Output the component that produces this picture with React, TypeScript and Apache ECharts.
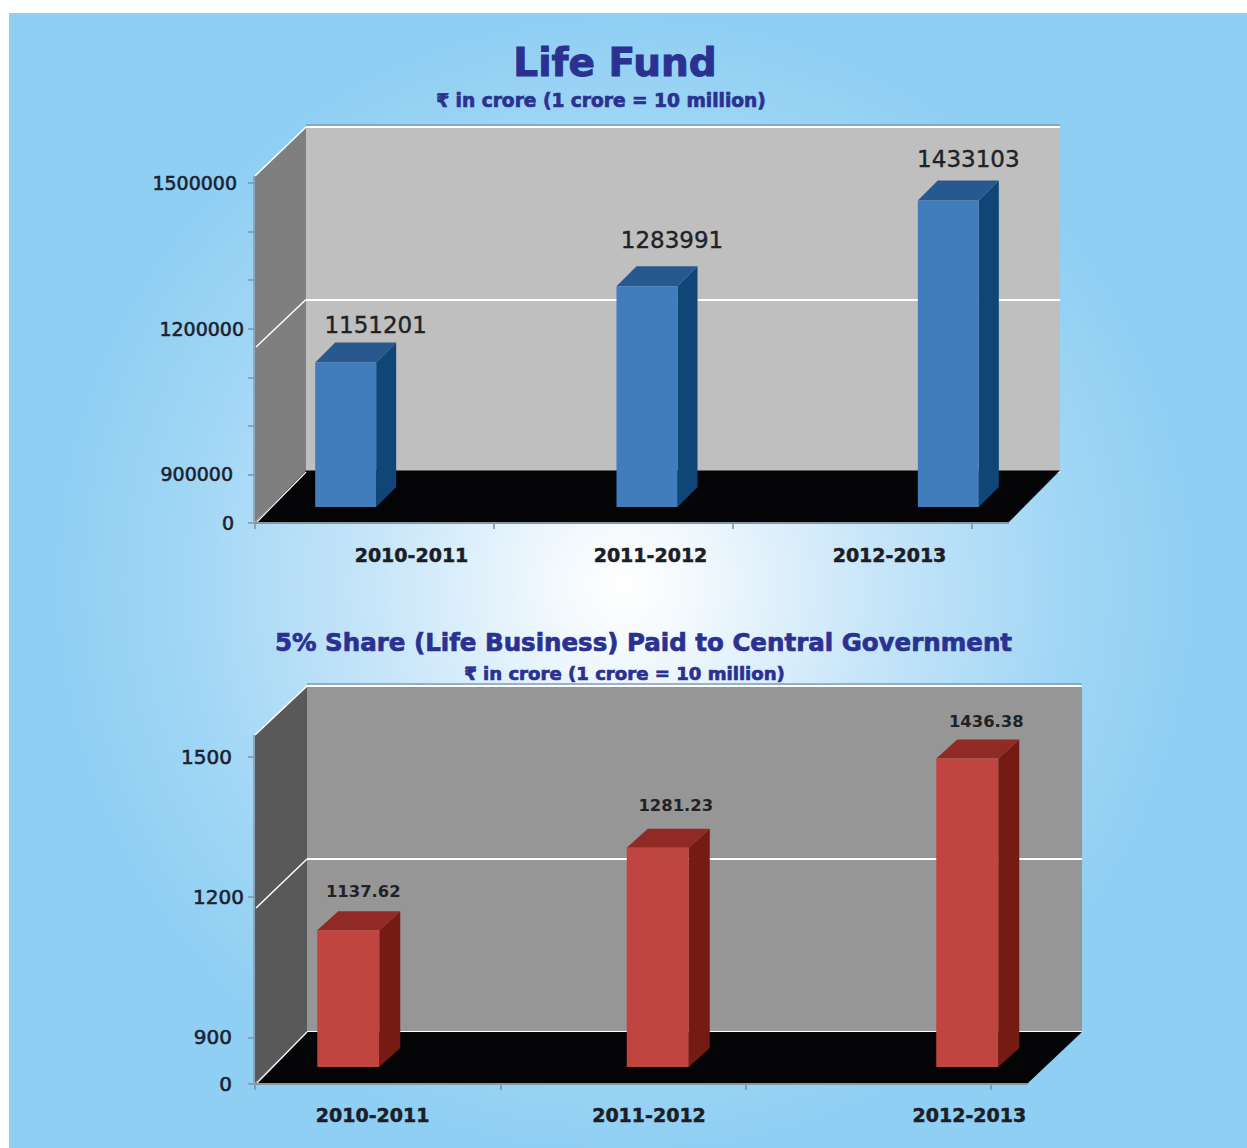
import React, { useEffect, useRef } from "react";
import * as echarts from "echarts";

const years = ["2010-2011", "2011-2012", "2012-2013"];
const lifeFund = [1151201, 1283991, 1433103];
const sharePaid = [1137.62, 1281.23, 1436.38];
const lifeFundTicks = [800000, 900000, 1200000, 1500000];
const shareTicks = [800, 900, 1200, 1500];

const FONT = "'DejaVu Sans', sans-serif";
const TITLE_BLUE = "#2b3191";
const INK = "#1d1d26";

const lifeOffsets = [[30, -38], [25, -46], [20, -41]];
const shareOffsets = [[15, -39], [18, -42], [19, -37]];

function barItem(cfg: any) {
  return (params: any, api: any) => {
    const i = params.dataIndex;
    const top = api.coord([api.value(0), api.value(1)]);
    const base = api.coord([api.value(0), cfg.base]);
    const x0 = top[0] - cfg.w / 2;
    const x1 = top[0] + cfg.w / 2;
    const dx = cfg.dx;
    const dy = cfg.dy;
    const off = cfg.offsets[i];
    return {
      type: "group",
      children: [
        { type: "polygon", shape: { points: [[x1, top[1]], [x1 + dx, top[1] + dy], [x1 + dx, base[1] + dy], [x1, base[1]]] }, style: { fill: cfg.side, opacity: 1 } },
        { type: "polygon", shape: { points: [[x0, top[1]], [x0 + dx, top[1] + dy], [x1 + dx, top[1] + dy], [x1, top[1]]] }, style: { fill: cfg.top, opacity: 1 } },
        { type: "polygon", shape: { points: [[x0, top[1]], [x1, top[1]], [x1, base[1]], [x0, base[1]]] }, style: { fill: cfg.front, opacity: 1 } },
        {
          type: "text",
          x: top[0] + off[0],
          y: top[1] + off[1],
          style: {
            text: cfg.fmt(api.value(1)),
            fill: "#222226",
            stroke: "#222226",
            lineWidth: cfg.stroke,
            fontFamily: FONT,
            fontSize: cfg.fontSize,
            fontWeight: cfg.fontWeight,
            align: "center",
            verticalAlign: "middle",
          },
        },
      ],
    };
  };
}

function shifted(shifts: number[], font: number) {
  return years.map((value, i) => ({
    value,
    textStyle: {
      fontFamily: FONT,
      fontWeight: "bold",
      fontSize: font,
      color: INK,
      textBorderColor: INK,
      textBorderWidth: 0.5,
      padding: shifts[i] >= 0 ? [0, 0, 0, shifts[i] * 2] : [0, -shifts[i] * 2, 0, 0],
    },
  }));
}

function wallGraphics(c: any) {
  const { fx, bx, frontTop, backTop, frontFloor, backFloor, frontRight, backRight, backMid, sideMid } = c;
  const floorTop = backFloor - c.floorRaise;
  return [
    { type: "polygon", z: -1, shape: { points: [[fx, frontTop], [bx, backTop], [bx, backFloor], [fx, frontFloor]] }, style: { fill: c.sideColor } },
    { type: "polygon", z: 1, shape: { points: [[fx + 1, frontFloor], [bx, floorTop], [backRight, floorTop], [frontRight, frontFloor]] }, style: { fill: "#040406" } },
    { type: "line", z: 1, shape: { x1: fx, y1: frontTop, x2: bx, y2: backTop }, style: { stroke: "#ffffff", lineWidth: 1.5 } },
    { type: "line", z: 1, shape: { x1: fx + 1, y1: sideMid, x2: bx, y2: backMid }, style: { stroke: "#ffffff", lineWidth: 1.5 } },
    { type: "line", z: 1, shape: { x1: fx + 2, y1: frontFloor, x2: bx, y2: backFloor }, style: { stroke: "#ffffff", lineWidth: 1.2 } },
    { type: "line", z: 1, shape: { x1: bx, y1: backTop - 2, x2: backRight, y2: backTop - 2 }, style: { stroke: "#7f9db4", lineWidth: 1.5 } },
    { type: "line", z: 1, shape: { x1: fx - 1, y1: frontTop, x2: fx - 1, y2: frontFloor }, style: { stroke: "#8b99a4", lineWidth: 1.5 } },
    { type: "line", z: 1, shape: { x1: fx, y1: frontFloor + 1, x2: frontRight, y2: frontFloor + 1 }, style: { stroke: "#8b97a0", lineWidth: 2 } },
  ];
}

function axesFor(c: any, start: number) {
  const grids = [
    { left: c.bx, top: c.backTop, width: c.backRight - c.bx, height: c.backFloor - c.backTop, show: true, backgroundColor: c.wallColor, borderWidth: 0 },
    { left: c.barLeft, top: c.barTop, width: c.barWidth, height: c.barBottom - c.barTop, show: false },
    { left: c.fx, top: c.tickTop, width: c.tickRight - c.fx, height: c.frontFloor + 1 - c.tickTop, show: false },
  ];
  const xAxis = [
    { type: "category", gridIndex: start, data: years, show: false },
    { type: "category", gridIndex: start + 1, data: years, show: false },
    {
      type: "category",
      gridIndex: start + 2,
      data: shifted(c.labelShift, 19),
      axisLine: { show: false },
      axisTick: { show: true, length: 6, alignWithLabel: false, lineStyle: { color: "#7f8b96", width: 1.5 } },
      axisLabel: { show: true, margin: c.xMargin, fontFamily: FONT, fontWeight: "bold", fontSize: 19, color: INK, interval: 0 },
    },
  ];
  const rich: any = {};
  c.labels.forEach((v: number, i: number) => {
    rich["p" + i] = {
      padding: [0, c.pads[i], 0, 0],
      fontFamily: FONT,
      fontSize: c.axisFont,
      fontWeight: "normal",
      color: "#1c2230",
      textBorderColor: "#1c2230",
      textBorderWidth: 0.6,
    };
  });
  const yAxis = [
    {
      type: "value", gridIndex: start, min: c.min, max: c.max, interval: c.step,
      axisLine: { show: false }, axisTick: { show: false }, axisLabel: { show: false },
      splitLine: { show: true, lineStyle: { color: "#ffffff", width: 2 } },
    },
    { type: "value", gridIndex: start + 1, min: c.min, max: c.max, interval: c.step, show: false },
    {
      type: "value", gridIndex: start + 2, min: c.axisMin, max: c.max, interval: c.minor,
      splitLine: { show: false },
      axisLine: { show: false },
      axisTick: { show: true, length: 7, lineStyle: { color: "#7d94a6", width: 1.5 }, ...(c.tickList ? { customValues: c.tickList } : {}) },
      axisLabel: {
        show: true,
        customValues: c.labels,
        margin: 11,
        fontFamily: FONT,
        fontSize: c.axisFont,
        color: "#1c2230",
        formatter: (v: number) => `{p${c.labels.indexOf(v)}|${v === c.axisMin ? "0" : v}}`,
        rich,
      },
    },
  ];
  return { grids, xAxis, yAxis };
}

const top = {
  fx: 255, bx: 306, frontTop: 176, backTop: 127, frontFloor: 522, backFloor: 472, frontRight: 1009, backRight: 1060,
  backMid: 299.5, sideMid: 347, wallColor: "#bfbfbf", sideColor: "#7f7f7f", floorRaise: 1.5,
  barLeft: 195, barWidth: 904, barTop: 162, barBottom: 507,
  tickTop: 183, tickRight: 972, labelShift: [37, 37, 37], xMargin: 22,
  min: 900000, max: 1500000, step: 300000, axisMin: 800000, minor: 100000, labels: lifeFundTicks, tickList: null,
  pads: [10, 11, 0, 7], axisFont: 19,
};
const bottom = {
  fx: 255, bx: 307, frontTop: 735, backTop: 686, frontFloor: 1083, backFloor: 1032, frontRight: 1028, backRight: 1082,
  backMid: 859, sideMid: 908, wallColor: "#969696", sideColor: "#595959", floorRaise: 0,
  barLeft: 193.5, barWidth: 928.5, barTop: 722, barBottom: 1067,
  tickTop: 757, tickRight: 991, labelShift: [-5, 26, 101], xMargin: 21,
  min: 900, max: 1500, step: 300, axisMin: 800, minor: 100, labels: shareTicks, tickList: shareTicks,
  pads: [12, 12, 0, 12], axisFont: 20,
};

const a = axesFor(top, 0);
const b = axesFor(bottom, 3);

const titles = [
  { text: "Life Fund", x: 615, y: 62, size: 39, weight: 1 },
  { text: "₹ in crore (1 crore = 10 million)", x: 601, y: 100, size: 18.6, weight: 0.7 },
  { text: "5% Share (Life Business) Paid to Central Government", x: 643.5, y: 642, size: 24.5, weight: 0.7 },
  { text: "₹ in crore (1 crore = 10 million)", x: 624.5, y: 673, size: 18.1, weight: 0.7 },
];

function buildOption() {
  return {
    animation: false,
    backgroundColor: "#ffffff",
    graphic: {
      elements: [
        {
          type: "rect",
          z: -5,
          shape: { x: 9, y: 13, width: 1238, height: 1135 },
          style: {
            fill: {
              type: "radial", x: 625, y: 585, r: 570, global: true,
              colorStops: [
                { offset: 0, color: "#ffffff" },
                { offset: 0.12, color: "#f3f9fd" },
                { offset: 0.45, color: "#c6e5f9" },
                { offset: 0.78, color: "#a0d6f5" },
                { offset: 1, color: "#8fcff3" },
              ],
            },
          },
        },
        ...wallGraphics(top),
        ...wallGraphics(bottom),
        ...titles.map((t) => ({
          type: "text",
          z: 4,
          x: t.x,
          y: t.y,
          style: {
            text: t.text, fill: TITLE_BLUE, stroke: TITLE_BLUE, lineWidth: t.weight,
            fontFamily: FONT, fontSize: t.size, fontWeight: "bold", align: "center", verticalAlign: "middle",
          },
        })),
      ],
    },
    grid: [...a.grids, ...b.grids],
    xAxis: [...a.xAxis, ...b.xAxis],
    yAxis: [...a.yAxis, ...b.yAxis],
    series: [
      {
        type: "custom",
        name: "Life Fund",
        xAxisIndex: 1,
        yAxisIndex: 1,
        z: 5,
        encode: { x: 0, y: 1 },
        data: lifeFund.map((v, i) => [i, v]),
        renderItem: barItem({
          base: 900000, w: 61, dx: 20, dy: -20, offsets: lifeOffsets, front: "#417dbd", top: "#27598f", side: "#0f4677",
          fmt: (v: number) => String(v), fontSize: 23, fontWeight: "normal", stroke: 0.4,
        }),
      },
      {
        type: "custom",
        name: "5% Share (Life Business) Paid to Central Government",
        xAxisIndex: 4,
        yAxisIndex: 4,
        z: 5,
        encode: { x: 0, y: 1 },
        data: sharePaid.map((v, i) => [i, v]),
        renderItem: barItem({
          base: 900, w: 62, dx: 21, dy: -19, offsets: shareOffsets, front: "#c0443f", top: "#912a25", side: "#761a14",
          fmt: (v: number) => v.toFixed(2), fontSize: 16.4, fontWeight: "bold", stroke: 0,
        }),
      },
    ],
  };
}

export default function App() {
  const ref = useRef<HTMLDivElement>(null);
  useEffect(() => {
    const chart = echarts.init(ref.current!, null, { renderer: "svg" });
    chart.setOption(buildOption() as any);
    return () => chart.dispose();
  }, []);
  return <div ref={ref} style={{ position: "absolute", left: 0, top: 0, width: 1247, height: 1148 }} />;
}
